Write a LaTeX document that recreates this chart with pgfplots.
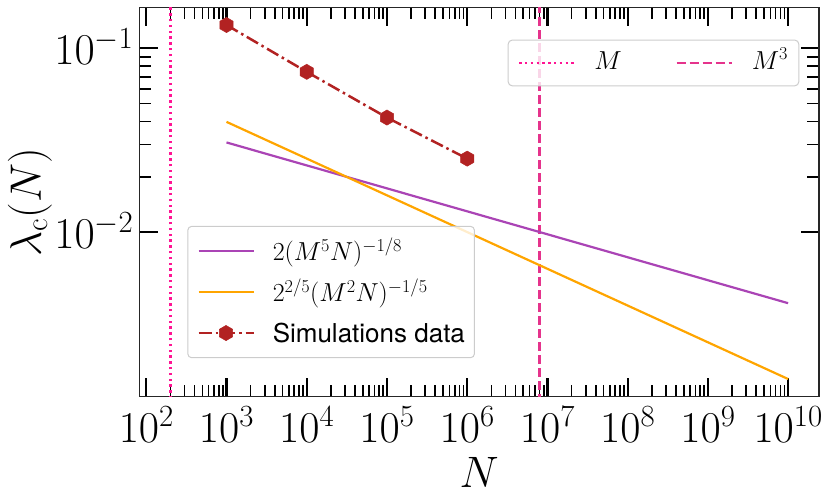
\RequirePackage{fix-cm}
\documentclass[border=0pt]{standalone}
\usepackage{fontspec}
\newfontfamily\heros{TeX Gyre Heros}
\usepackage{pgfplots}
\pgfplotsset{compat=1.18}
\definecolor{cpurple}{HTML}{AA44B5}
\definecolor{corange}{HTML}{FFA500}
\definecolor{cred}{HTML}{B22222}
\definecolor{cdot}{HTML}{FF1493}
\definecolor{cdash}{HTML}{E5338C}
\pgfdeclareplotmark{hexa}{%
  \pgfpathmoveto{\pgfpointpolar{90}{\pgfplotmarksize}}%
  \pgfpathlineto{\pgfpointpolar{150}{\pgfplotmarksize}}%
  \pgfpathlineto{\pgfpointpolar{210}{\pgfplotmarksize}}%
  \pgfpathlineto{\pgfpointpolar{270}{\pgfplotmarksize}}%
  \pgfpathlineto{\pgfpointpolar{330}{\pgfplotmarksize}}%
  \pgfpathlineto{\pgfpointpolar{30}{\pgfplotmarksize}}%
  \pgfpathclose
  \pgfusepathqfillstroke}
\newcommand{\bigf}{\fontsize{44bp}{48bp}\selectfont}
\newcommand{\legf}{\fontsize{26bp}{30bp}\selectfont}
\begin{document}
\begin{tikzpicture}
\path[use as bounding box] (0,0) rectangle (830bp,504bp);
\begin{axis}[
  at={(139.5bp,107.3bp)}, anchor=south west,
  scale only axis, width=679.5bp, height=389.4bp,
  xmode=log, ymode=log,
  xmin=82.4, xmax=2.426e10, ymin=1.27e-3, ymax=0.1673,
  axis line style={line width=1.2bp, black!85},
  tick align=inside,
  major tick length=18.5bp, minor tick length=12bp,
  every major tick/.append style={line width=2.2bp, black},
  every minor tick/.append style={line width=1.6bp, black},
  xtick={1e2,1e3,1e4,1e5,1e6,1e7,1e8,1e9,1e10},
  ytick={1e-2,1e-1},
  ticklabel style={font=\bigf},
  xticklabel style={anchor=base, yshift=-45.5bp, inner sep=0pt},
  yticklabel style={anchor=base east, xshift=-6bp, yshift=-16.6bp, inner sep=0pt},
  xlabel={$N$},
  ylabel={$\lambda_{\mathrm{c}}(N)$},
  label style={font=\bigf},
  xlabel style={at={(axis description cs:0.5,-0.2327)}, anchor=base, inner sep=0pt},
  ylabel style={at={(axis description cs:-0.145,0.5)}, anchor=base, inner sep=0pt},
  legend style={font=\legf,
    draw=black!20, line width=1bp, rounded corners=4bp,
    fill=white, fill opacity=0.8, draw opacity=1, text opacity=1,
    at={(0.0703,0.4388)}, anchor=north west,
    inner xsep=9.5bp, inner ysep=8.2bp, row sep=8bp, column sep=18bp,
    nodes={inner sep=0bp, text height=26bp, text depth=7bp},
  },
  legend cell align=left,
  legend image code/.code={\draw[sharp corners, fill opacity=1, mark repeat=2, mark phase=2, #1]
    plot coordinates {(0bp,0bp) (27.5bp,0bp) (55bp,0bp)};},
]
\addplot[cdot, line width=2.4bp, dash pattern=on 2.4bp off 3.4bp, forget plot]
  coordinates {(200,1e-3) (200,0.3)};
\addplot[cdash, line width=2.3bp, dash pattern=on 9bp off 4bp, forget plot]
  coordinates {(8e6,1e-3) (8e6,0.3)};
\addplot[cpurple, line width=2.2bp]
  coordinates {(1e3,0.03075) (1e10,0.004101)};
\addlegendentry{$2(M^5N)^{-1/8}$}
\addplot[corange, line width=2.2bp]
  coordinates {(1e3,0.03981) (1e10,0.001585)};
\addlegendentry{$2^{2/5}(M^2N)^{-1/5}$}
\addplot[cred, line width=2.5bp, dash pattern=on 13bp off 4bp on 2.5bp off 4bp,
  mark=hexa, mark size=7.6bp, mark options={solid, fill=cred, draw=cred, line width=0.5bp}]
  coordinates {(1e3,0.134) (1e4,0.0745) (1e5,0.042) (1e6,0.0251)};
\addlegendentry{{\heros Simulations data}}
\end{axis}
\begin{axis}[
  at={(139.5bp,107.3bp)}, anchor=south west,
  scale only axis, width=679.5bp, height=389.4bp,
  xmode=log, ymode=log,
  xmin=82.4, xmax=2.426e10, ymin=1.27e-3, ymax=0.1673,
  hide axis,
  legend columns=2,
  legend style={font=\legf,
    draw=black!20, line width=1bp, rounded corners=4bp,
    fill=white, fill opacity=0.8, draw opacity=1, text opacity=1,
    at={(0.971,0.917)}, anchor=north east,
    inner xsep=9.7bp, inner ysep=9bp, column sep=0bp,
    nodes={inner sep=0bp, text height=20bp, text depth=7.7bp},
  },
  legend cell align=left,
  legend image code/.code={\draw[sharp corners, fill opacity=1, #1] (0bp,0bp) -- (55bp,0bp);},
]
\addlegendimage{cdot, line width=2.4bp, dash pattern=on 2.4bp off 3.4bp}
\addlegendentry{\makebox[100.3bp][l]{\hspace*{19bp}$M$}}
\addlegendimage{cdash, line width=2.3bp, dash pattern=on 9bp off 4bp}
\addlegendentry{\makebox[56.2bp][l]{\hspace*{19bp}$M^3$}}
\end{axis}
\end{tikzpicture}
\end{document}
